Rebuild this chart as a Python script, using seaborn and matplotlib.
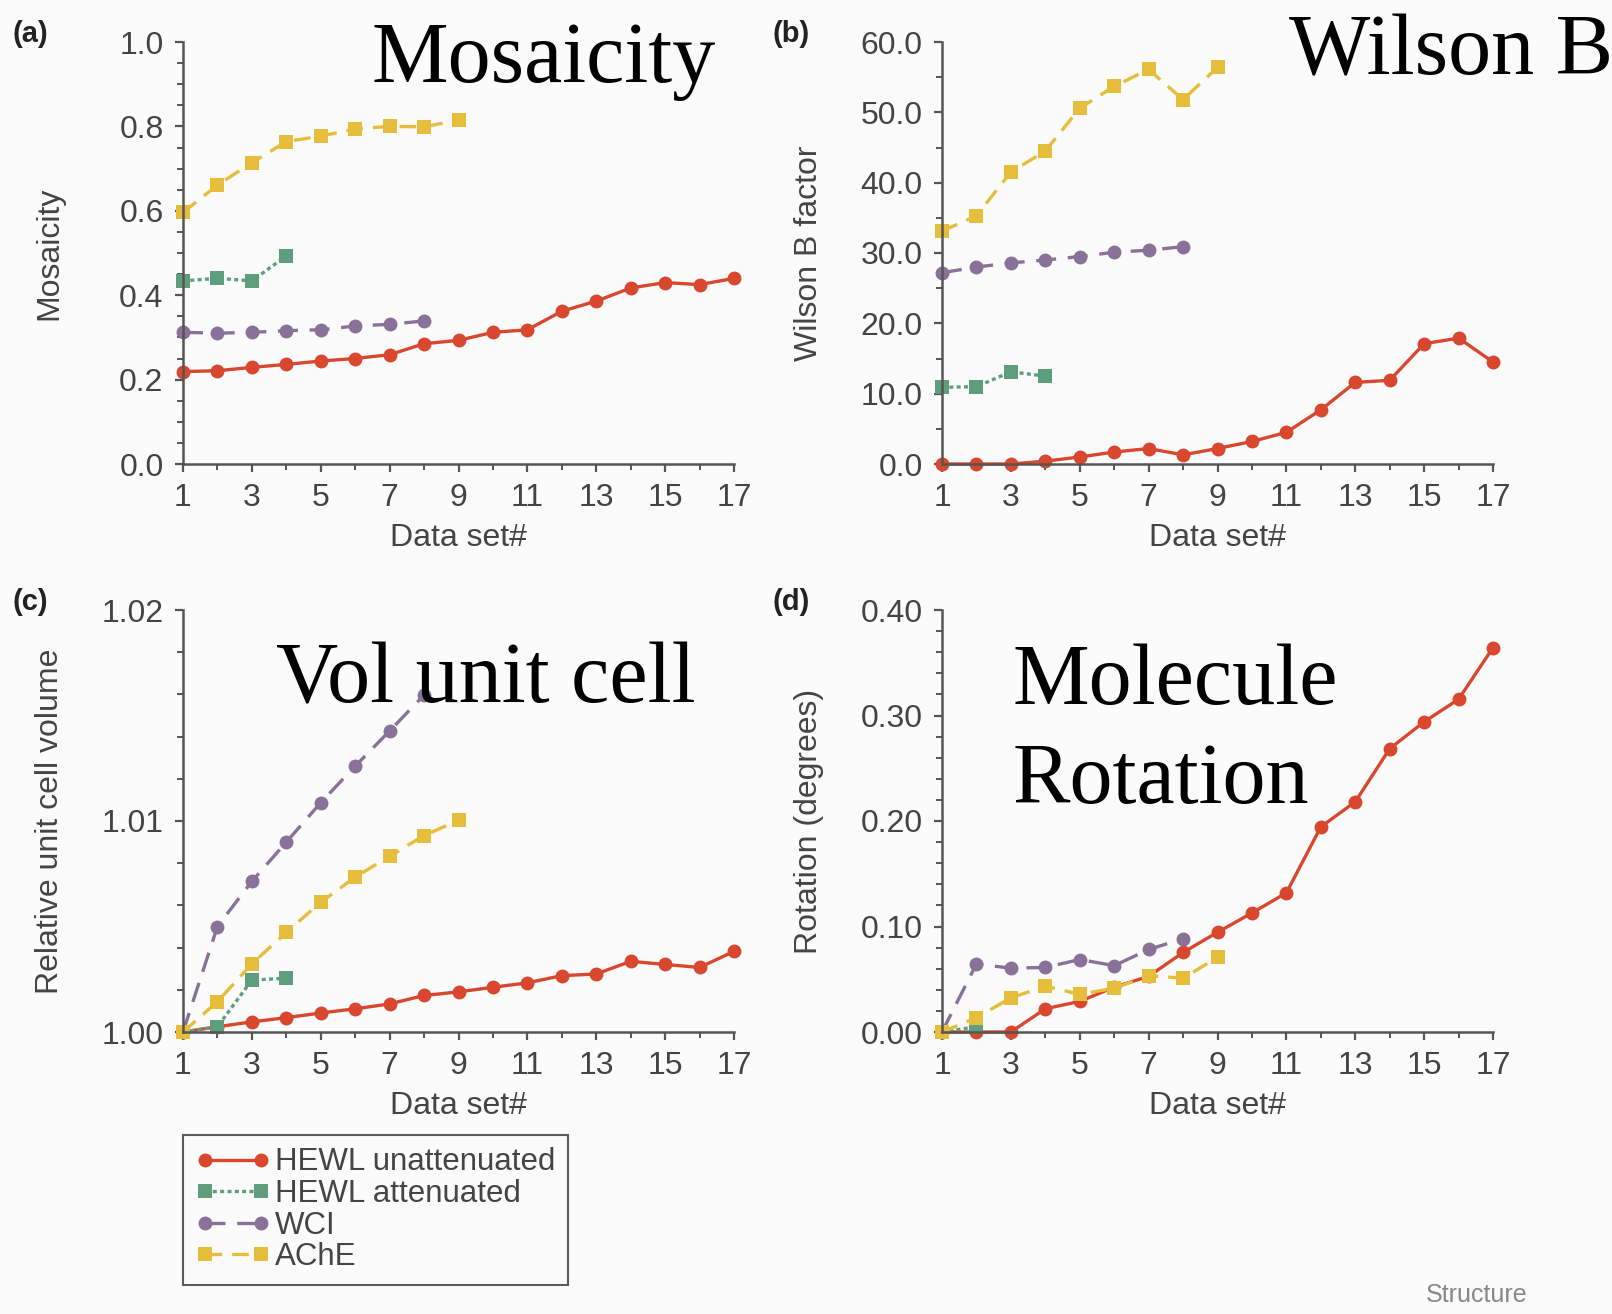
import pandas as pd
import matplotlib.pyplot as plt
import seaborn as sns
from matplotlib.ticker import MultipleLocator, FormatStrFormatter

sns.set_style('ticks')
plt.rcParams['font.family'] = ['Liberation Sans', 'DejaVu Sans']

# series names and colours
series = ['HEWL unattenuated', 'HEWL attenuated', 'WCI', 'AChE']
palette = ['#d9472f', '#5f9e7d', '#8a7199', '#e6be3c']

# (a) Mosaicity
mos_hewl_un = [0.219, 0.221, 0.229, 0.236, 0.244, 0.250, 0.259, 0.285, 0.293,
               0.312, 0.318, 0.362, 0.386, 0.417, 0.430, 0.425, 0.440]
mos_hewl_att = [0.434, 0.440, 0.434, 0.493]
mos_wci = [0.312, 0.310, 0.312, 0.316, 0.318, 0.327, 0.331, 0.339]
mos_ache = [0.596, 0.661, 0.714, 0.764, 0.777, 0.794, 0.800, 0.799, 0.815]

# (b) Wilson B factor
wil_hewl_un = [0.0, 0.0, 0.0, 0.4, 1.0, 1.7, 2.2, 1.3, 2.2, 3.2, 4.5, 7.7,
               11.6, 11.9, 17.1, 17.9, 14.5]
wil_hewl_att = [10.9, 11.0, 13.1, 12.5]
wil_wci = [27.2, 28.0, 28.6, 29.0, 29.5, 30.1, 30.4, 30.9]
wil_ache = [33.1, 35.3, 41.5, 44.5, 50.6, 53.7, 56.1, 51.8, 56.4]

# (c) Relative unit cell volume
vol_hewl_un = [1.0, 1.00025, 1.00048, 1.00068, 1.0009, 1.0011, 1.00133, 1.00173,
               1.0019, 1.00212, 1.00233, 1.00267, 1.00275, 1.00335, 1.0032,
               1.00306, 1.00382]
vol_hewl_att = [1.0, 1.00025, 1.00246, 1.00255]
vol_wci = [1.0, 1.005, 1.00714, 1.009, 1.01087, 1.0126, 1.01427, 1.01597]
vol_ache = [1.0, 1.00144, 1.00323, 1.00472, 1.00615, 1.00734, 1.00833,
            1.00931, 1.01003]

# (d) Rotation (degrees)
rot_hewl_un = [0.0, 0.0, 0.0, 0.022, 0.029, 0.0425, 0.0527, 0.0754, 0.0945,
               0.1128, 0.1319, 0.1944, 0.2182, 0.2685, 0.294, 0.3154, 0.3643]
rot_hewl_att = [0.0, 0.005]
rot_wci = [0.0, 0.0646, 0.0605, 0.0612, 0.0687, 0.0629, 0.0782, 0.0884]
rot_ache = [0.0, 0.0136, 0.0323, 0.0435, 0.0357, 0.0415, 0.0534, 0.051, 0.0707]


def long_df(values):
    rows = []
    for name, vals in zip(series, values):
        for i, v in enumerate(vals):
            rows.append({'set': i + 1, 'value': v, 'series': name})
    return pd.DataFrame(rows)


panels = [
    ('(a)', [mos_hewl_un, mos_hewl_att, mos_wci, mos_ache], (0, 1.0), 0.2, 0.05, '%.1f', 'Mosaicity'),
    ('(b)', [wil_hewl_un, wil_hewl_att, wil_wci, wil_ache], (0, 60), 10, 5, '%.1f', 'Wilson B factor'),
    ('(c)', [vol_hewl_un, vol_hewl_att, vol_wci, vol_ache], (1.0, 1.02), 0.01, 0.002, '%.2f', 'Relative unit cell volume'),
    ('(d)', [rot_hewl_un, rot_hewl_att, rot_wci, rot_ache], (0, 0.40), 0.10, 0.02, '%.2f', 'Rotation (degrees)'),
]

W, H = 1612, 1314
fig = plt.figure(figsize=(W / 100, H / 100), dpi=100, facecolor='#fbfbfb')

boxes = [(183, 42), (942, 42), (183, 610), (942, 610)]
letter_x = [12, 773, 12, 773]
ax_w, ax_h = 551, 422

markers = {'HEWL unattenuated': 'o', 'HEWL attenuated': 's', 'WCI': 'o', 'AChE': 's'}
dashes = {'HEWL unattenuated': '', 'HEWL attenuated': (1.2, 1.0),
          'WCI': (6, 3.5), 'AChE': (5, 3)}

handles, labels = None, None
for (letter, vals, ylim, major, minor, fmt, ylabel), (lx, ty), tx in zip(panels, boxes, letter_x):
    ax = fig.add_axes([lx / W, 1 - (ty + ax_h) / H, ax_w / W, ax_h / H])
    ax.set_facecolor('#fbfbfb')
    df = long_df(vals)
    sns.lineplot(data=df, x='set', y='value', hue='series', style='series',
                 hue_order=series, style_order=series, palette=palette,
                 markers=markers, dashes=dashes, markersize=10,
                 markeredgewidth=0, linewidth=2.4, ax=ax)
    for ln in ax.lines:
        ln.set_clip_on(False)
    if handles is None:
        handles, labels = ax.get_legend_handles_labels()
    ax.get_legend().remove()

    ax.set_xlim(1, 17)
    ax.set_ylim(*ylim)
    ax.set_xticks(range(1, 18, 2))
    ax.set_xticks(range(2, 17, 2), minor=True)
    ax.yaxis.set_major_locator(MultipleLocator(major))
    ax.yaxis.set_minor_locator(MultipleLocator(minor))
    ax.yaxis.set_major_formatter(FormatStrFormatter(fmt))
    sns.despine(ax=ax)
    for s in ['left', 'bottom']:
        ax.spines[s].set_color('#555555')
        ax.spines[s].set_linewidth(1.8)
    ax.tick_params(which='major', direction='out', length=6, width=1.6,
                   color='#555555', labelsize=23, labelcolor='#444444', pad=8)
    ax.tick_params(which='minor', direction='out', length=4, width=1.4, color='#555555')
    ax.set_xlabel('Data set#', fontsize=23, color='#444444')
    ax.set_ylabel(ylabel, fontsize=23, color='#444444')
    ax.xaxis.set_label_coords(0.5, -0.14)
    ax.yaxis.set_label_coords(-0.215, 0.5)
    ax.xaxis.label.set_va('top')
    fig.text(tx / W, 1 - (ty - 8) / H, letter, fontsize=21, fontweight='bold',
             color='#222222', va='center', ha='left')

# big overlay titles
serif = ['Liberation Serif', 'DejaVu Serif']
fig.text(372 / W, 1 - 82 / H, 'Mosaicity', fontsize=62, family=serif, va='baseline', color='black')
fig.text(1289 / W, 1 - 74 / H, 'Wilson B', fontsize=62, family=serif, va='baseline', color='black')
fig.text(276 / W, 1 - 702 / H, 'Vol unit cell', fontsize=62, family=serif, va='baseline', color='black')
fig.text(1013 / W, 1 - 704 / H, 'Molecule', fontsize=62, family=serif, va='baseline', color='black')
fig.text(1013 / W, 1 - 803 / H, 'Rotation', fontsize=62, family=serif, va='baseline', color='black')

leg = fig.legend(handles, labels, loc='upper left',
                 bbox_to_anchor=(183 / W, 1 - 1135 / H), fontsize=22.5,
                 frameon=True, fancybox=False, handlelength=2.4, numpoints=2,
                 handletextpad=0.15, labelspacing=0.05, borderpad=0.4,
                 borderaxespad=0)
leg.get_frame().set_edgecolor('#333333')
leg.get_frame().set_linewidth(1.5)
leg.get_frame().set_facecolor('#fbfbfb')
for t in leg.get_texts():
    t.set_color('#444444')

fig.text(1477 / W, 1 - 1295 / H, 'Structure', fontsize=18, color='#888888',
         ha='center', va='center')

fig.savefig('out.png', dpi=100, facecolor=fig.get_facecolor())
